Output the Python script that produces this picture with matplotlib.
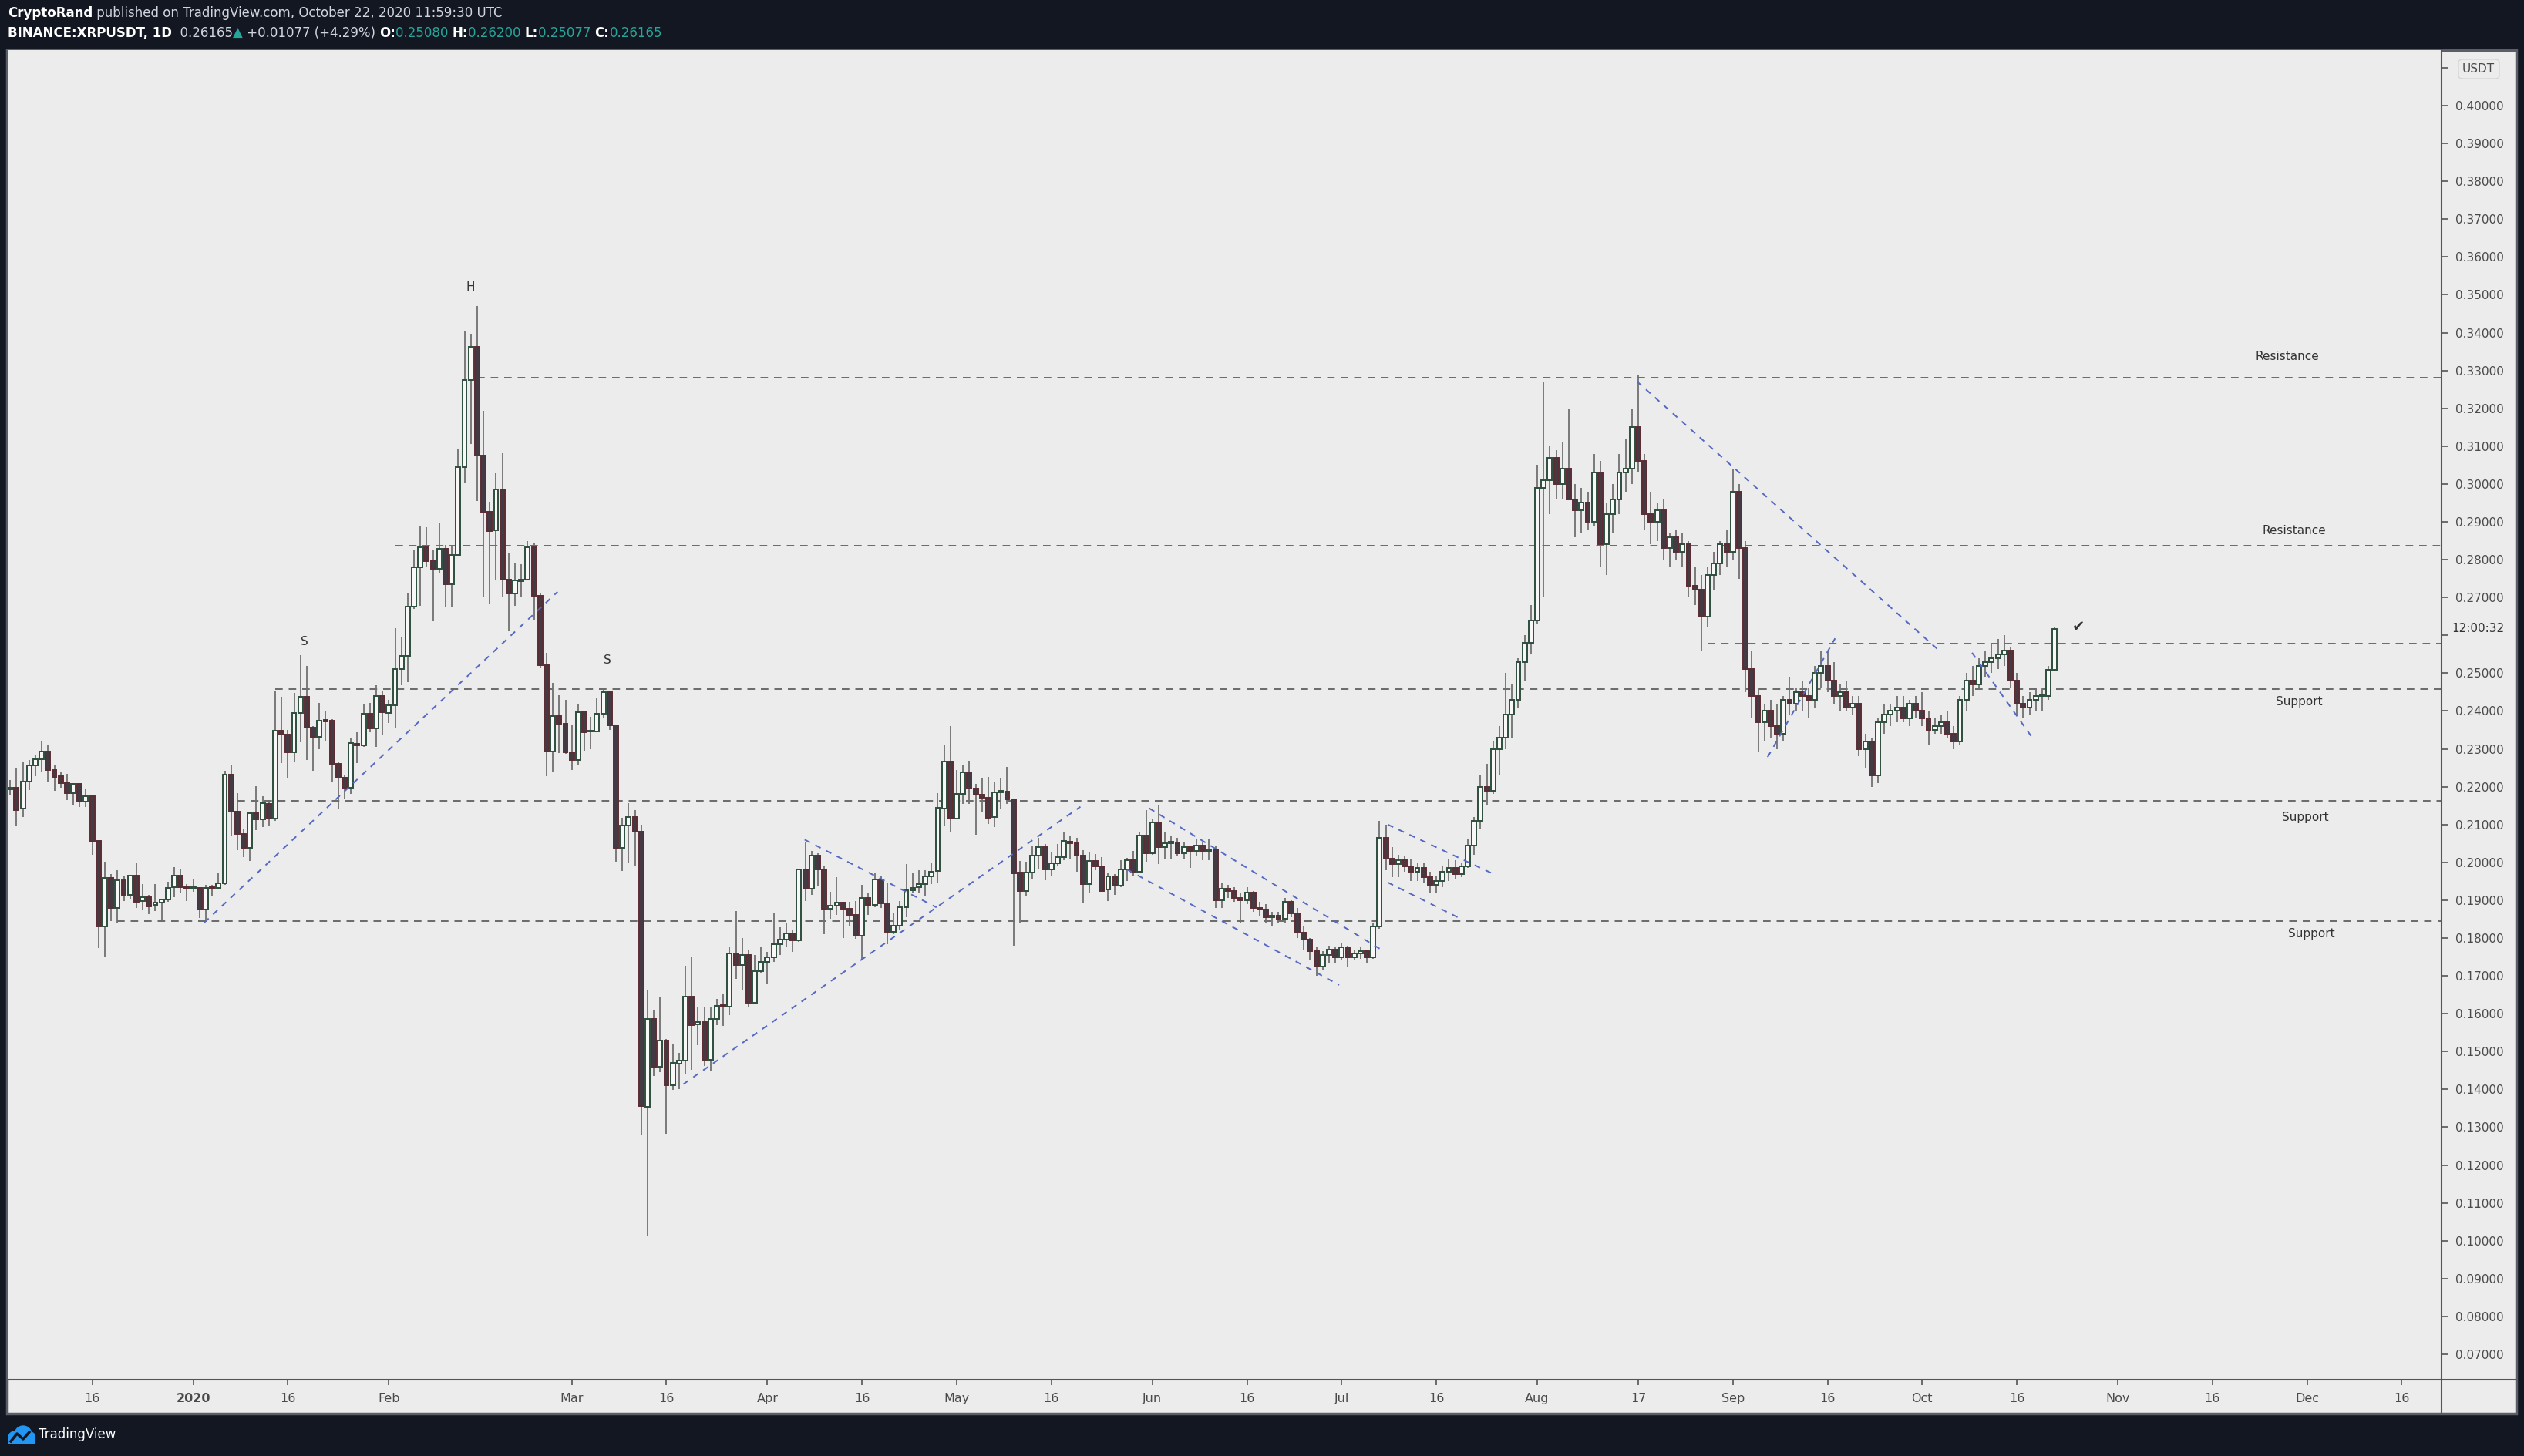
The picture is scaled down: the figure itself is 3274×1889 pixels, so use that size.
import matplotlib
matplotlib.use("Agg")
import matplotlib.pyplot as plt
from matplotlib.patches import Rectangle, FancyBboxPatch, Circle
from matplotlib.lines import Line2D
import numpy as np
import datetime as dt

# ---------------- data: (open, high, low, close) ----------------
dec_2019 = [
    (.2193, .2218, .2177, .2197), (.2197, .2250, .2096, .2139), (.2142, .2264, .2120, .2213),
    (.2213, .2271, .2191, .2256), (.2256, .2283, .2228, .2272), (.2272, .2321, .2237, .2292),
    (.2292, .2309, .2212, .2245), (.2245, .2258, .2189, .2226), (.2227, .2238, .2197, .2210),
    (.2211, .2234, .2165, .2184), (.2184, .2209, .2153, .2207), (.2207, .2208, .2147, .2161),
    (.2161, .2195, .2147, .2174), (.2174, .2177, .2020, .2055), (.2057, .2058, .1774, .1831),
    (.1831, .2002, .1750, .1958), (.1958, .1970, .1845, .1879), (.1879, .1979, .1838, .1952),
    (.1952, .1962, .1898, .1915), (.1914, .1966, .1904, .1966), (.1966, .1999, .1880, .1895),
    (.1897, .1943, .1874, .1909), (.1907, .1915, .1864, .1884), (.1887, .1943, .1872, .1893),
    (.1893, .1901, .1847, .1901), (.1901, .1949, .1896, .1932), (.1934, .1987, .1909, .1966),
    (.1966, .1981, .1920, .1934), (.1935, .1943, .1898, .1930),
]
jan_2020 = [
    (.1930, .1955, .1923, .1932), (.1932, .1935, .1852, .1875), (.1875, .1940, .1843, .1933),
    (.1935, .1940, .1913, .1930), (.1932, .1973, .1930, .1945), (.1945, .2242, .1941, .2231),
    (.2231, .2257, .2070, .2135), (.2134, .2184, .2032, .2076), (.2076, .2089, .2013, .2038),
    (.2038, .2134, .2003, .2130), (.2130, .2201, .2086, .2113), (.2113, .2174, .2094, .2156),
    (.2154, .2159, .2096, .2115), (.2115, .2454, .2110, .2347), (.2347, .2438, .2263, .2337),
    (.2337, .2351, .2224, .2290), (.2290, .2448, .2267, .2394), (.2394, .2548, .2318, .2437),
    (.2437, .2519, .2271, .2357), (.2357, .2360, .2243, .2332), (.2332, .2421, .2299, .2374),
    (.2377, .2400, .2322, .2373), (.2374, .2378, .2213, .2260), (.2260, .2265, .2140, .2223),
    (.2223, .2229, .2168, .2197), (.2197, .2330, .2181, .2315), (.2314, .2343, .2263, .2309),
    (.2309, .2419, .2305, .2392), (.2392, .2421, .2344, .2355), (.2355, .2468, .2306, .2439),
    (.2439, .2451, .2337, .2396),
]
feb_2020 = [
    (.2395, .2430, .2369, .2415), (.2415, .2619, .2355, .2510), (.2510, .2596, .2468, .2546),
    (.2546, .2711, .2476, .2675), (.2675, .2826, .2670, .2779), (.2779, .2887, .2677, .2833),
    (.2833, .2885, .2779, .2797), (.2798, .2824, .2637, .2775), (.2775, .2896, .2764, .2828),
    (.2828, .2838, .2675, .2736), (.2736, .2838, .2675, .2812), (.2812, .3093, .2810, .3044),
    (.3044, .3404, .3003, .3274), (.3274, .3397, .3106, .3363), (.3363, .3471, .2955, .3075),
    (.3075, .3194, .2703, .2924), (.2927, .2953, .2683, .2875), (.2877, .3029, .2748, .2985),
    (.2985, .3081, .2703, .2748), (.2748, .2818, .2611, .2710), (.2710, .2792, .2679, .2745),
    (.2743, .2787, .2701, .2748), (.2748, .2849, .2745, .2832), (.2832, .2842, .2642, .2705),
    (.2704, .2711, .2513, .2522), (.2522, .2553, .2228, .2292), (.2292, .2474, .2237, .2386),
    (.2386, .2442, .2288, .2367), (.2367, .2429, .2287, .2290),
]
mar_2020 = [
    (.2290, .2362, .2245, .2271), (.2271, .2417, .2259, .2396), (.2398, .2400, .2295, .2343),
    (.2345, .2385, .2300, .2347), (.2345, .2433, .2343, .2392), (.2392, .2463, .2383, .2449),
    (.2449, .2452, .2351, .2363), (.2363, .2365, .2002, .2039), (.2039, .2117, .1978, .2097),
    (.2097, .2157, .2000, .2120), (.2120, .2138, .1989, .2082), (.2082, .2099, .1280, .1355),
    (.1353, .1662, .1014, .1587), (.1587, .1611, .1435, .1459), (.1459, .1643, .1446, .1530),
    (.1530, .1534, .1283, .1410), (.1410, .1520, .1398, .1470), (.1469, .1496, .1401, .1477),
    (.1477, .1727, .1442, .1646), (.1646, .1751, .1451, .1570), (.1571, .1619, .1517, .1579),
    (.1579, .1618, .1462, .1478), (.1478, .1616, .1448, .1586), (.1586, .1640, .1570, .1621),
    (.1622, .1653, .1568, .1618), (.1618, .1776, .1597, .1760), (.1759, .1872, .1693, .1728),
    (.1728, .1800, .1664, .1755), (.1755, .1767, .1618, .1629), (.1629, .1755, .1625, .1712),
    (.1712, .1778, .1707, .1737),
]
apr_2020 = [
    (.1736, .1763, .1679, .1750), (.1750, .1867, .1737, .1783), (.1783, .1829, .1756, .1795),
    (.1795, .1839, .1776, .1812), (.1812, .1822, .1763, .1793), (.1793, .1984, .1790, .1981),
    (.1981, .2053, .1898, .1930), (.1930, .2030, .1915, .2019), (.2019, .2025, .1938, .1982),
    (.1982, .1989, .1811, .1877), (.1877, .1923, .1850, .1885), (.1885, .1960, .1862, .1894),
    (.1893, .1896, .1801, .1877), (.1877, .1895, .1831, .1862), (.1861, .1897, .1799, .1806),
    (.1806, .1941, .1740, .1905), (.1905, .1920, .1862, .1887), (.1887, .1972, .1882, .1954),
    (.1954, .1964, .1879, .1891), (.1889, .1947, .1784, .1816), (.1816, .1865, .1811, .1833),
    (.1833, .1897, .1822, .1881), (.1881, .1996, .1855, .1926), (.1926, .1971, .1918, .1933),
    (.1934, .1979, .1918, .1942), (.1942, .1979, .1913, .1962), (.1962, .2000, .1943, .1975),
    (.1977, .2183, .1946, .2144), (.2142, .2310, .2098, .2266), (.2266, .2361, .2082, .2115),
]
may_2020 = [
    (.2115, .2244, .2113, .2181), (.2181, .2259, .2154, .2237), (.2239, .2268, .2155, .2195),
    (.2195, .2207, .2072, .2178), (.2179, .2224, .2132, .2170), (.2170, .2226, .2102, .2117),
    (.2119, .2213, .2094, .2186), (.2186, .2222, .2143, .2188), (.2188, .2252, .2155, .2166),
    (.2166, .2168, .1780, .1971), (.1973, .2003, .1841, .1925), (.1925, .2001, .1913, .1973),
    (.1973, .2045, .1956, .2019), (.2019, .2064, .1984, .2040), (.2040, .2049, .1952, .1982),
    (.1982, .2026, .1966, .1997), (.1997, .2049, .1989, .2013), (.2013, .2081, .2006, .2056),
    (.2054, .2069, .2008, .2050), (.2050, .2064, .1976, .2019), (.2019, .2033, .1892, .1943),
    (.1943, .2026, .1921, .2004), (.2003, .2023, .1979, .1989), (.1989, .2014, .1923, .1925),
    (.1928, .1972, .1897, .1962), (.1962, .1970, .1915, .1938), (.1938, .2006, .1935, .1981),
    (.1981, .2011, .1950, .2005), (.2005, .2030, .1962, .1976), (.1976, .2082, .1976, .2070),
    (.2070, .2139, .2001, .2025),
]
jun_2020 = [
    (.2025, .2115, .2020, .2105), (.2105, .2150, .1995, .2040), (.2040, .2080, .2010, .2050),
    (.2050, .2070, .2010, .2050), (.2050, .2065, .2015, .2025), (.2025, .2055, .2010, .2040),
    (.2040, .2045, .1985, .2030), (.2030, .2060, .2015, .2045), (.2045, .2055, .2005, .2030),
    (.2030, .2060, .2005, .2035), (.2035, .2045, .1880, .1900), (.1900, .1945, .1880, .1930),
    (.1930, .1940, .1905, .1925), (.1925, .1935, .1895, .1905), (.1905, .1920, .1840, .1900),
    (.1900, .1935, .1890, .1920), (.1920, .1925, .1870, .1880), (.1880, .1895, .1860, .1875),
    (.1875, .1890, .1840, .1855), (.1855, .1870, .1830, .1860), (.1860, .1870, .1840, .1850),
    (.1850, .1905, .1840, .1895), (.1895, .1900, .1855, .1865), (.1865, .1880, .1800, .1815),
    (.1815, .1830, .1770, .1795), (.1795, .1800, .1740, .1765), (.1765, .1775, .1700, .1725),
    (.1725, .1765, .1715, .1755), (.1755, .1780, .1735, .1770), (.1770, .1775, .1735, .1750),
]
jul_2020 = [
    (.1750, .1785, .1740, .1775), (.1775, .1780, .1725, .1750), (.1750, .1770, .1740, .1760),
    (.1760, .1775, .1745, .1765), (.1765, .1770, .1735, .1750), (.1750, .1840, .1745, .1830),
    (.1830, .2110, .1825, .2065), (.2065, .2100, .1980, .2010), (.2010, .2040, .1960, .1995),
    (.1995, .2020, .1960, .2005), (.2005, .2015, .1975, .1990), (.1990, .2010, .1950, .1975),
    (.1975, .2000, .1950, .1985), (.1985, .2000, .1945, .1960), (.1960, .1975, .1920, .1940),
    (.1940, .1965, .1920, .1950), (.1950, .1990, .1935, .1975), (.1975, .2010, .1950, .1985),
    (.1985, .2005, .1955, .1970), (.1970, .2000, .1960, .1990), (.1990, .2060, .1985, .2045),
    (.2045, .2120, .2020, .2110), (.2110, .2230, .2090, .2200), (.2200, .2260, .2150, .2190),
    (.2190, .2320, .2180, .2300), (.2300, .2360, .2230, .2330), (.2330, .2500, .2300, .2390),
    (.2390, .2470, .2330, .2430), (.2430, .2540, .2410, .2530), (.2530, .2600, .2480, .2580),
    (.2580, .2680, .2550, .2640),
]
aug_2020 = [
    (.2640, .3050, .2630, .2990), (.2990, .3270, .2700, .3010), (.3010, .3100, .2920, .3070),
    (.3070, .3090, .2960, .3000), (.3000, .3110, .2960, .3040), (.3040, .3200, .2970, .2960),
    (.2960, .3000, .2860, .2930), (.2930, .2990, .2870, .2950), (.2950, .2980, .2880, .2900),
    (.2900, .3080, .2890, .3030), (.3030, .3060, .2780, .2840), (.2840, .2950, .2760, .2920),
    (.2920, .3000, .2870, .2960), (.2960, .3080, .2920, .3030), (.3030, .3120, .2980, .3040),
    (.3040, .3200, .3000, .3150), (.3150, .3290, .3030, .3060), (.3060, .3080, .2880, .2920),
    (.2920, .2980, .2840, .2900), (.2900, .2950, .2850, .2930), (.2930, .2960, .2800, .2830),
    (.2830, .2870, .2780, .2860), (.2860, .2880, .2800, .2820), (.2820, .2870, .2780, .2840),
    (.2840, .2850, .2700, .2730), (.2730, .2780, .2680, .2720), (.2720, .2760, .2560, .2650),
    (.2650, .2780, .2620, .2760), (.2760, .2820, .2720, .2790), (.2790, .2850, .2760, .2840),
    (.2840, .2880, .2780, .2820),
]
sep_2020 = [
    (.2820, .3040, .2800, .2980), (.2980, .3000, .2750, .2830), (.2830, .2850, .2450, .2510),
    (.2510, .2560, .2380, .2440), (.2440, .2460, .2290, .2370), (.2370, .2420, .2320, .2400),
    (.2400, .2430, .2330, .2360), (.2360, .2420, .2300, .2340), (.2340, .2440, .2320, .2430),
    (.2430, .2490, .2390, .2420), (.2420, .2460, .2400, .2450), (.2450, .2480, .2400, .2440),
    (.2440, .2460, .2380, .2430), (.2430, .2520, .2410, .2500), (.2500, .2560, .2460, .2520),
    (.2520, .2560, .2450, .2480), (.2480, .2530, .2420, .2440), (.2440, .2470, .2400, .2450),
    (.2450, .2480, .2400, .2410), (.2410, .2440, .2390, .2420), (.2420, .2440, .2280, .2300),
    (.2300, .2340, .2250, .2320), (.2320, .2330, .2200, .2230), (.2230, .2380, .2210, .2370),
    (.2370, .2420, .2340, .2390), (.2390, .2420, .2360, .2400), (.2400, .2440, .2370, .2410),
    (.2410, .2440, .2370, .2380), (.2380, .2430, .2360, .2420), (.2420, .2440, .2380, .2400),
]
oct_2020 = [
    (.2400, .2450, .2360, .2380), (.2380, .2400, .2310, .2350), (.2350, .2380, .2340, .2360),
    (.2360, .2390, .2340, .2370), (.2370, .2400, .2330, .2340), (.2340, .2360, .2300, .2320),
    (.2320, .2440, .2310, .2430), (.2430, .2500, .2400, .2480), (.2480, .2520, .2440, .2470),
    (.2470, .2540, .2460, .2520), (.2520, .2560, .2490, .2530), (.2530, .2580, .2500, .2540),
    (.2540, .2590, .2510, .2550), (.2550, .2600, .2520, .2560), (.2560, .2570, .2460, .2480),
    (.2480, .2500, .2390, .2420), (.2420, .2440, .2380, .2410), (.2410, .2450, .2390, .2430),
    (.2430, .2460, .2400, .2440), (.2440, .2460, .2400, .2440), (.2440, .2520, .2430, .2508),
    (.25080, .26200, .25077, .26165),
]
months = [
    (dt.date(2019, 12, 3), dec_2019), (dt.date(2020, 1, 1), jan_2020),
    (dt.date(2020, 2, 1), feb_2020), (dt.date(2020, 3, 1), mar_2020),
    (dt.date(2020, 4, 1), apr_2020), (dt.date(2020, 5, 1), may_2020),
    (dt.date(2020, 6, 1), jun_2020), (dt.date(2020, 7, 1), jul_2020),
    (dt.date(2020, 8, 1), aug_2020), (dt.date(2020, 9, 1), sep_2020),
    (dt.date(2020, 10, 1), oct_2020),
]

# horizontal support / resistance levels: (price, start date)
levels = [(0.3280, dt.date(2020, 2, 15)), (0.2837, dt.date(2020, 2, 2)),
          (0.2579, dt.date(2020, 8, 28)), (0.2459, dt.date(2020, 1, 14)),
          (0.2162, dt.date(2020, 1, 8)), (0.1845, dt.date(2019, 12, 20))]
level_labels = [("Resistance", 0.3336), ("Resistance", 0.2876), ("Support", 0.2425),
                ("Support", 0.2118), ("Support", 0.1812)]
label_days = [331.9, 332.9, 333.7, 334.7, 335.7]

# blue trend lines, (day, price) end points
trend_lines = [
    ((1.76, .1841), (57.75, .2715)), ((77.7, .1414), (140.6, .2147)),
    ((96.9, .2060), (117.8, .1881)), ((151.5, .2143), (188.3, .1769)),
    ((148.0, .1981), (181.6, .1676)), ((189.3, .2100), (206.1, .1969)),
    ((189.3, .1947), (200.5, .1854)), ((228.8, .3271), (276.8, .2558)),
    ((249.5, .2278), (260.2, .2592)), ((281.9, .2554), (291.3, .2333)),
]

tick_dates = [dt.date(2019, 12, 16), dt.date(2020, 1, 1), dt.date(2020, 1, 16), dt.date(2020, 2, 1),
              dt.date(2020, 3, 1), dt.date(2020, 3, 16), dt.date(2020, 4, 1), dt.date(2020, 4, 16),
              dt.date(2020, 5, 1), dt.date(2020, 5, 16), dt.date(2020, 6, 1), dt.date(2020, 6, 16),
              dt.date(2020, 7, 1), dt.date(2020, 7, 16), dt.date(2020, 8, 1), dt.date(2020, 8, 17),
              dt.date(2020, 9, 1), dt.date(2020, 9, 16), dt.date(2020, 10, 1), dt.date(2020, 10, 16),
              dt.date(2020, 11, 1), dt.date(2020, 11, 16), dt.date(2020, 12, 1), dt.date(2020, 12, 16)]
tick_labels = ["16", "2020", "16", "Feb", "Mar", "16", "Apr", "16", "May", "16", "Jun", "16",
               "Jul", "16", "Aug", "17", "Sep", "16", "Oct", "16", "Nov", "16", "Dec", "16"]

# ---------------- figure ----------------
W, H = 3274, 1889
BG = "#131722"
PANEL = "#ececec"
fig = plt.figure(figsize=(W / 100, H / 100), dpi=100)
fig.patch.set_facecolor(BG)

day0 = dt.date(2020, 1, 1)
def dnum(d):
    return (d - day0).days

# light panel
fig.add_artist(Rectangle((9 / W, 1 - 1834 / H), (3264 - 9) / W, (1834 - 65) / H,
                         transform=fig.transFigure, fc=PANEL, ec="#5a5e66", lw=2.5, zorder=0))

ax = fig.add_axes([11 / W, 1 - 1790 / H, (3167 - 11) / W, (1790 - 65) / H])
ax.set_facecolor(PANEL)
ax.set_xlim(-29.27, 356.3)
ax.set_ylim(0.06328, 0.41467)
for s in ["top", "left"]:
    ax.spines[s].set_visible(False)
for s in ["right", "bottom"]:
    ax.spines[s].set_color("#555555")
    ax.spines[s].set_linewidth(1.5)

# candles
xs, o, h, l, c = [], [], [], [], []
for start, rows in months:
    for i, (op, hi, lo, cl) in enumerate(rows):
        xs.append(dnum(start) + i)
        o.append(op); h.append(hi); l.append(lo); c.append(cl)
xs = np.array(xs, float); o = np.array(o); h = np.array(h); l = np.array(l); c = np.array(c)
up = c >= o
ax.vlines(xs, l, h, color="#707070", lw=1.3, zorder=2)
body_lo = np.minimum(o, c)
body_h = np.maximum(np.abs(c - o), 0.0004)
ax.bar(xs[up], body_h[up], bottom=body_lo[up], width=0.72, color="#f8f8f8",
       edgecolor="#2e4d3d", linewidth=1.4, zorder=3)
ax.bar(xs[~up], body_h[~up], bottom=body_lo[~up], width=0.72, color="#433a44",
       edgecolor="#5b2c33", linewidth=1.4, zorder=3)

# support/resistance levels
for p, d in levels:
    ax.hlines(p, dnum(d), 356.3, colors="#6a6a6a", linestyles=(0, (5, 4)), lw=1.4, zorder=1)
for (txt, p), d in zip(level_labels, label_days):
    ax.text(d, p, txt, ha="center", va="center", fontsize=11, color="#333333")

for (d1, p1), (d2, p2) in trend_lines:
    ax.plot([d1, d2], [p1, p2], color="#5468c4", lw=1.4, ls=(0, (4, 4)), zorder=4)

ax.text(43.9, 0.3521, "H", ha="center", va="center", fontsize=11, color="#333333")
ax.text(17.6, 0.2584, "S", ha="center", va="center", fontsize=11, color="#333333")
ax.text(65.7, 0.2535, "S", ha="center", va="center", fontsize=11, color="#333333")
ax.text(298.8, 0.2621, "\u2714", ha="center", va="center", fontsize=14, color="#333333")

# axes ticks (0.26 label sits under the countdown, 0.41 under the USDT box)
ax.yaxis.tick_right()
yt = np.round(np.arange(0.07, 0.4101, 0.01), 2)
ax.set_yticks(yt)
ax.set_yticklabels(["" if v in (0.26, 0.41) else f"{v:.5f}" for v in yt])
ax.tick_params(axis="y", direction="out", length=6, width=1.2, color="#555555",
               labelcolor="#4a4a4a", labelsize=11, pad=7)
ax.set_xticks([dnum(d) for d in tick_dates])
ax.set_xticklabels(tick_labels)
ax.tick_params(axis="x", direction="out", length=5, width=1.2, color="#555555",
               labelcolor="#4a4a4a", labelsize=11.5, pad=7)
for lab in ax.get_xticklabels():
    if lab.get_text() == "2020":
        lab.set_fontweight("bold")

# axis separators running to the panel edges
fig.add_artist(Line2D([3167 / W, 3167 / W], [1 - 1790 / H, 1 - 1833 / H], color="#555555", lw=1.5))
fig.add_artist(Line2D([3167 / W, 3263 / W], [1 - 1790 / H, 1 - 1790 / H], color="#555555", lw=1.5))

# USDT box at the top of the price scale
fig.add_artist(FancyBboxPatch((3189 / W, 1 - 102 / H), 53 / W, 25 / H,
                              boxstyle="round,pad=0,rounding_size=0.002",
                              transform=fig.transFigure, fc=PANEL, ec="#d6d6d6", lw=1, zorder=5))
fig.text(3215 / W, 1 - 89 / H, "USDT", ha="center", va="center", fontsize=11,
         color="#4a4a4a", zorder=6)
fig.text(3180 / W, 1 - 816 / H, "12:00:32", ha="left", va="center", fontsize=11, color="#333333")

# header text pieces
r = fig.canvas.get_renderer()
def seq(x, y, pieces):
    for s, col, wt in pieces:
        t = fig.text(x / W, 1 - y / H, s, color=col, fontweight=wt, fontsize=12,
                     ha="left", va="center")
        x += t.get_window_extent(renderer=r).width
    return x

TEAL = "#26a69a"
seq(10, 17, [("CryptoRand", "white", "bold"),
             (" published on TradingView.com, October 22, 2020 11:59:30 UTC", "#d1d4dc", "normal")])
seq(10, 43, [("BINANCE:XRPUSDT, 1D", "white", "bold"), ("  0.26165", "#d1d4dc", "normal"),
             ("\u25b2", TEAL, "normal"), (" +0.01077 (+4.29%) ", "#d1d4dc", "normal"),
             ("O:", "white", "bold"), ("0.25080 ", TEAL, "normal"),
             ("H:", "white", "bold"), ("0.26200 ", TEAL, "normal"),
             ("L:", "white", "bold"), ("0.25077 ", TEAL, "normal"),
             ("C:", "white", "bold"), ("0.26165", TEAL, "normal")])

# footer logo
lax = fig.add_axes([10 / W, 1 - 1874 / H, 36 / W, 26 / H])
lax.set_xlim(0, 36); lax.set_ylim(0, 26); lax.axis("off")
for cx, cy, rr in [(9, 9, 8), (20, 13, 11), (29, 9, 7)]:
    lax.add_patch(Circle((cx, cy), rr, color="#2196f3"))
lax.add_patch(Rectangle((1, 1), 34, 8, color="#2196f3"))
lax.plot([4, 12, 20, 28], [4, 14, 7, 16], color=BG, lw=2.5)
fig.text(50 / W, 1 - 1861 / H, "TradingView", color="white", fontsize=12, ha="left", va="center")

fig.savefig("out.png", dpi=100, facecolor=BG)
